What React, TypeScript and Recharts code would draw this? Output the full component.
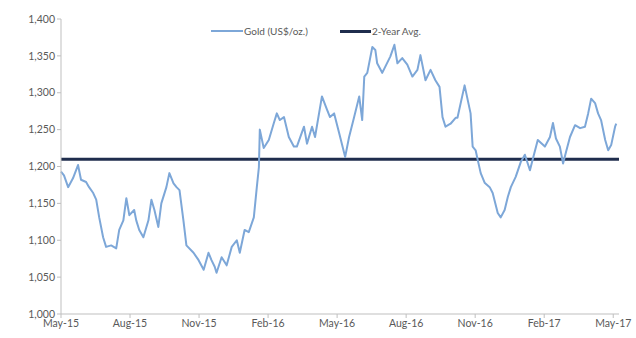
import React from 'react';
import { LineChart, Line, XAxis, YAxis, ReferenceLine } from 'recharts';

// months since May-15 (fractional) and the gold price read at that point
const monthOffsets = [
  0, 0.13, 0.31, 0.52, 0.74, 0.87, 1.09, 1.22, 1.4, 1.53, 1.66, 1.83, 1.96, 2.18, 2.4, 2.53, 2.71, 2.84, 2.97, 3.18,
  3.27, 3.4, 3.58, 3.8, 3.93, 4.06, 4.23, 4.36, 4.58, 4.71, 4.89, 5.02, 5.15, 5.32, 5.45, 5.76, 5.98, 6.2, 6.41, 6.54,
  6.68, 6.76, 6.98, 7.2, 7.42, 7.64, 7.77, 7.98, 8.16, 8.38, 8.51, 8.6, 8.64, 8.81, 9.03, 9.25, 9.38, 9.51, 9.69, 9.9,
  10.12, 10.25, 10.56, 10.69, 10.91, 11.04, 11.34, 11.56, 11.69, 11.87, 12.09, 12.35, 12.52, 12.74, 12.96, 13.09, 13.18, 13.31, 13.53, 13.66,
  13.74, 13.96, 14.31, 14.49, 14.62, 14.83, 15.05, 15.27, 15.49, 15.62, 15.84, 16.06, 16.27, 16.45, 16.58, 16.71, 16.93, 17.15, 17.23, 17.54,
  17.8, 17.89, 18.02, 18.11, 18.24, 18.41, 18.63, 18.76, 18.98, 19.11, 19.28, 19.42, 19.55, 19.76, 19.98, 20.16, 20.38, 20.51, 20.72, 21.03,
  21.25, 21.38, 21.51, 21.68, 21.82, 21.95, 22.12, 22.34, 22.56, 22.77, 22.91, 23.04, 23.21, 23.34, 23.47, 23.65, 23.78, 23.91, 24.08, 24.13,
];

const goldPrices = [
  1193, 1188, 1172, 1184, 1202, 1182, 1179, 1172, 1164, 1155, 1131, 1104, 1091, 1093, 1089, 1114, 1127, 1157, 1134, 1141,
  1127, 1114, 1104, 1127, 1155, 1141, 1118, 1150, 1172, 1191, 1177, 1172, 1168, 1127, 1093, 1083, 1073, 1060, 1083, 1073,
  1064, 1056, 1077, 1066, 1091, 1100, 1083, 1114, 1111, 1131, 1172, 1199, 1250, 1225, 1236, 1259, 1272, 1263, 1267, 1240,
  1227, 1227, 1254, 1231, 1254, 1240, 1295, 1277, 1267, 1272, 1245, 1213, 1240, 1267, 1295, 1263, 1322, 1327, 1362, 1358,
  1340, 1327, 1349, 1365, 1340, 1347, 1338, 1322, 1331, 1351, 1317, 1331, 1317, 1308, 1267, 1254, 1258, 1266, 1266, 1310,
  1272, 1227, 1222, 1209, 1191, 1178, 1172, 1164, 1137, 1131, 1141, 1159, 1172, 1186, 1206, 1216, 1195, 1211, 1236, 1227,
  1240, 1259, 1238, 1227, 1204, 1220, 1240, 1256, 1252, 1254, 1272, 1292, 1286, 1272, 1263, 1236, 1222, 1229, 1254, 1258,
];

const twoYearAvg = 1210;

const xTickLabels = ['May-15', 'Aug-15', 'Nov-15', 'Feb-16', 'May-16', 'Aug-16', 'Nov-16', 'Feb-17', 'May-17'];
const xTicks = [0, 3, 6, 9, 12, 15, 18, 21, 24];
const yTicks = [1000, 1050, 1100, 1150, 1200, 1250, 1300, 1350, 1400];

const GOLD = '#7da7d8';
const AVG = '#1f2d4d';
const TEXT = '#595959';
const FONT = 'Lato, "Open Sans", sans-serif';

const data = monthOffsets.map((m, i) => ({ m, gold: goldPrices[i] }));

function LegendBox() {
  return (
    <div
      style={{
        position: 'absolute',
        left: 211,
        top: 25,
        display: 'flex',
        alignItems: 'center',
        fontFamily: FONT,
        fontSize: 10,
        color: TEXT,
      }}
    >
      <span style={{ display: 'inline-block', width: 32, height: 2, background: GOLD }} />
      <span style={{ marginLeft: 1 }}>Gold (US$/oz.)</span>
      <span style={{ display: 'inline-block', width: 31, height: 3, background: AVG, marginLeft: 32 }} />
      <span style={{ marginLeft: 1 }}>2-Year Avg.</span>
    </div>
  );
}

export default function App() {
  return (
    <div style={{ position: 'absolute', left: 0, top: 0, width: 636, height: 338, background: '#fff' }}>
      <LineChart width={636} height={338} data={data} margin={{ top: 19, right: 17, left: 0, bottom: 0 }}>
        <XAxis
          dataKey="m"
          type="number"
          domain={[0, 24.25]}
          ticks={xTicks}
          tickFormatter={(v: number) => xTickLabels[xTicks.indexOf(v)] ?? ''}
          height={24}
          stroke="#bfbfbf"
          tickSize={4}
          tick={{ fontSize: 10.5, fill: TEXT, fontFamily: FONT }}
          interval={0}
        />
        <YAxis
          domain={[1000, 1400]}
          ticks={yTicks}
          width={61}
          stroke="#bfbfbf"
          tickSize={4}
          tickFormatter={(v: number) => v.toLocaleString('en-US')}
          tick={{ fontSize: 10.5, fill: TEXT, fontFamily: FONT }}
          interval={0}
        />
        <ReferenceLine y={twoYearAvg} stroke={AVG} strokeWidth={3} />
        <Line
          dataKey="gold"
          stroke={GOLD}
          strokeWidth={2}
          dot={false}
          isAnimationActive={false}
          strokeLinejoin="round"
        />
      </LineChart>
      <LegendBox />
    </div>
  );
}
